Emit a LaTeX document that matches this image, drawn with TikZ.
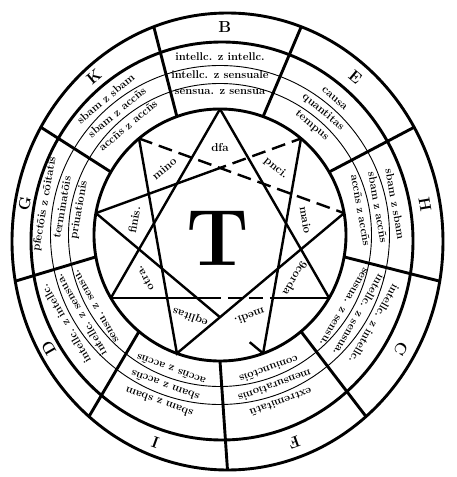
\documentclass[tikz,border=0pt]{standalone}
\usetikzlibrary{calc}

\begin{document}
\begin{tikzpicture}[x=1pt, y=1pt,
  ringline/.style={line width=2.9pt},
  rowline/.style={line width=0.9pt},
  starline/.style={line width=2.4pt},
  worn/.style={dash pattern=on 14pt off 7pt},
  celltext/.style={font=\fontsize{11.2}{12}\selectfont\bfseries, inner sep=0pt},
  starlabel/.style={font=\fontsize{11.5}{12}\selectfont\bfseries, inner sep=0pt},
  ringletter/.style={font=\fontsize{16}{16}\selectfont\bfseries, inner sep=0pt},
  bigT/.style={font=\fontsize{80}{80}\selectfont\bfseries, inner sep=0pt}]

\useasboundingbox (-228,-237) rectangle (228,240);

\def\rs{126}      % star circle
\def\rone{178}    % outer text row
\def\rtwo{160.5}  % middle text row
\def\rthree{143}  % inner text row
\def\rlab{87}     % labels in the star points

\coordinate (O) at (-0.5,-1.5);  % outer rim
\coordinate (L) at (-6,-1);      % letter ring
\coordinate (Q) at (-3.25,-1.25); % middle of the letter ring
\coordinate (S) at (-8,5);       % star and text rows

% rims
\draw[ringline] (O) ellipse [x radius=215.5, y radius=228.5];
\draw[ringline] (L) ellipse [x radius=191, y radius=199];
\draw[ringline] (S) circle [radius=\rs];
% thin rules between the rows
\draw[rowline] (S) circle [radius=169.5];
\draw[rowline] (S) circle [radius=151.5];

% sector dividers
\foreach \k in {0,...,8}{
  \pgfmathsetmacro{\ang}{30+40*\k}
  \coordinate (din\k) at ([shift={(\ang:\rs)}]S);
  \coordinate (dout\k) at ([shift={(\ang:215.5 and 228.5)}]O);
  \draw[ringline] (din\k) -- (dout\k);
}

% sectors: k / outer row / middle row / inner row / letter
\foreach \k/\rowA/\rowB/\rowC/\ltr in {
  0/{intellc. z intellc.}/{intellc. z sensuale}/{sensua. z sensua}/B,
  1/{causa}/{quantitas}/{tempus}/E,
  2/{sbam z sbam}/{sbam z accñs}/{accñs z accñs}/H,
  3/{intellc. z intellc.}/{intellc. z sensua.}/{sensua. z sensu.}/C,
  4/{extremitatũ}/{mensurationis}/{coniunctõis}/F,
  5/{sbam z sbam}/{sbam z accñs}/{accñs z accñs}/I,
  6/{intellc. z intellc.}/{intellc. z sensua.}/{sensu. z sensu.}/D,
  7/{pfectõis z cõitatis}/{terminatõis}/{priuationis}/G,
  8/{sbam z sbam}/{sbam z accñs}/{accñs z accñs}/K}
{
  \pgfmathsetmacro{\ang}{90-40*\k}
  \pgfmathsetmacro{\rot}{-40*\k}
  \node[celltext, rotate=\rot] (rowa\k) at ([shift={(\ang:\rone)}]S) {\rowA};
  \node[celltext, rotate=\rot] (rowb\k) at ([shift={(\ang:\rtwo)}]S) {\rowB};
  \node[celltext, rotate=\rot] (rowc\k) at ([shift={(\ang:\rthree)}]S) {\rowC};
  \node[ringletter, rotate=\rot] (let\k) at ([shift={(\ang:203.25 and 214.5)}]Q) {\ltr};
}

% star points
\foreach \i in {0,...,8}{
  \pgfmathsetmacro{\ang}{90-40*\i}
  \coordinate (v\i) at ([shift={(\ang:\rs)}]S);
}

% triangle B-C-D
\draw[starline] (v0) -- (v3);
\draw[starline] (v6) -- (v0);
\draw[starline] (v6) -- ($(v6)!0.44!(v3)$);
\draw[starline, worn] ($(v6)!0.44!(v3)$) -- ($(v6)!0.73!(v3)$);
\draw[starline] ($(v6)!0.73!(v3)$) -- (v3);
% triangle E-F-G
\draw[starline] (v1) -- (v4);
\draw[starline] (v7) -- ($(v7)!0.74!(v4)$);
\draw[starline] ($(v7)!0.92!(v4)$) -- (v4);
\draw[starline] (v7) -- ($(v7)!0.57!(v1)$);
\draw[starline, worn] ($(v7)!0.57!(v1)$) -- (v1);
% triangle H-I-K
\draw[starline] (v2) -- (v5) -- (v8);
\draw[starline, worn] (v8) -- (v2);

% names in the star points
\foreach \k/\lbl in {0/dfa, 1/pnci., 2/maio, 3/9corda, 4/medi.,
                     5/eqlitas, 6/otra., 7/finis., 8/mino}
{
  \pgfmathsetmacro{\ang}{90-40*\k}
  \pgfmathsetmacro{\rot}{-40*\k}
  \node[starlabel, rotate=\rot] (pt\k) at ([shift={(\ang:\rlab)}]S) {\lbl};
}

\node[bigT] (tee) at (-10,2) {T};

\end{tikzpicture}
\end{document}
